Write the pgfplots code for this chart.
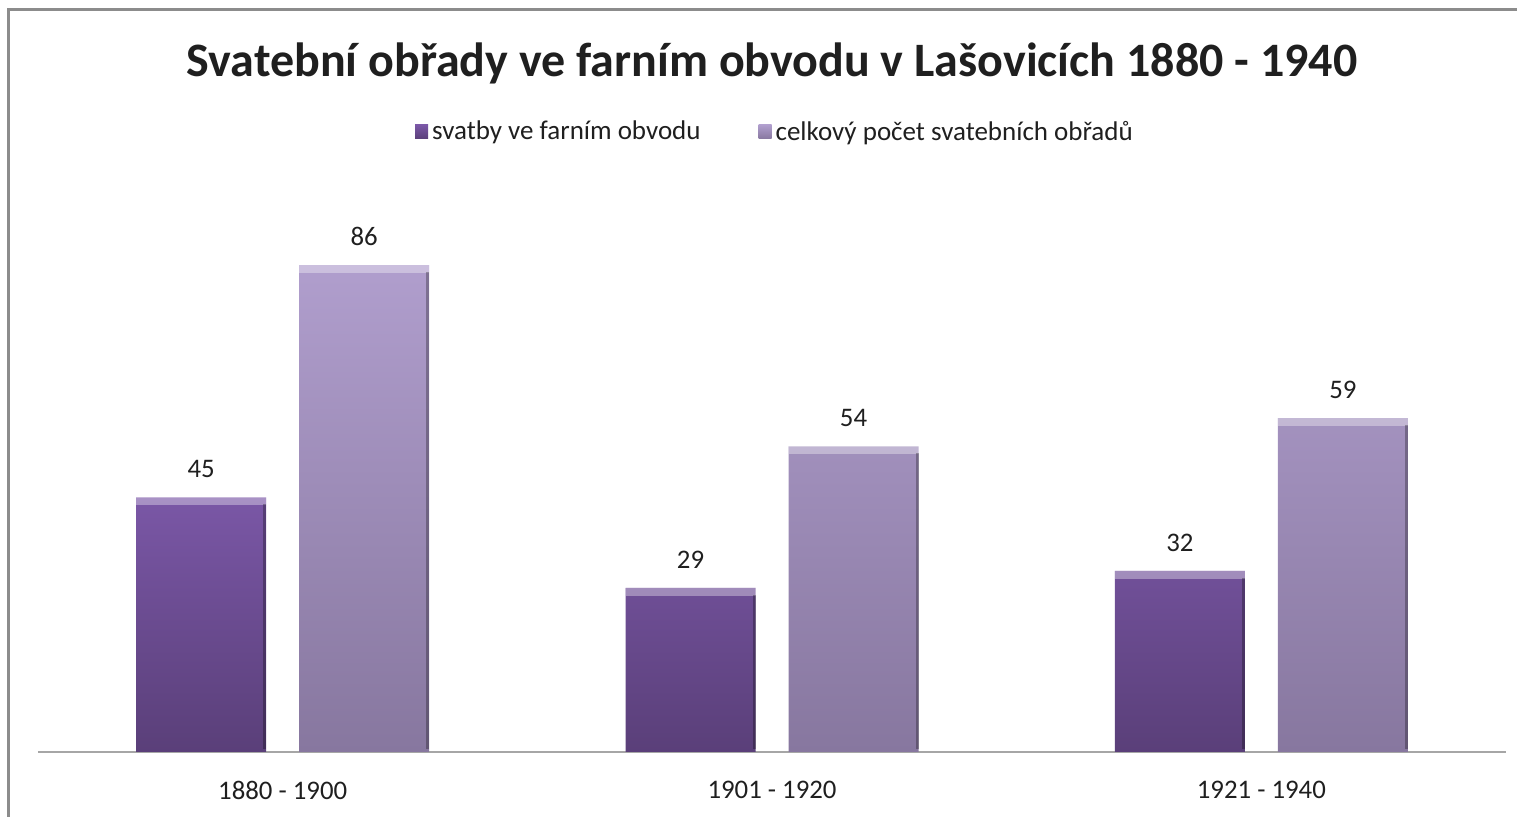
\documentclass[border=0pt]{standalone}
\usepackage{pgfplots}
\pgfplotsset{compat=1.18}
\usepackage{fontspec}
\setmainfont{Carlito}
\usetikzlibrary{shapes.geometric}
\definecolor{dtop}{HTML}{7A57A6}
\definecolor{dbot}{HTML}{5A3F79}
\definecolor{ltop}{HTML}{B09ECD}
\definecolor{lbot}{HTML}{87779F}
\definecolor{txt}{HTML}{1F1F1F}
\definecolor{frame}{HTML}{8C8C8C}
\pgfplotsset{
  bevelplot/.style={forget plot, draw=none, fill=none,
    nodes near coords={},
    nodes near coords style={anchor=north, inner sep=0pt, outer sep=0pt,
      shape=trapezium, trapezium angle=45, shape border rotate=180,
      trapezium stretches body, minimum width=65pt, minimum height=4pt,
      fill=white, fill opacity=0.35, draw=none}},
  edgeplot/.style={forget plot, draw=none, fill=none,
    visualization depends on={rawy \as \rawy},
    nodes near coords={},
    nodes near coords style={anchor=north east, inner sep=0pt, outer sep=0pt,
      xshift=32.5pt, yshift=-3.5pt, minimum width=1.5pt, minimum height={\rawy*2.83pt-5pt},
      fill=black, fill opacity=0.28, draw=none}},
  valplot/.style={nodes near coords,
    nodes near coords style={font=\fontsize{13.4}{15}\selectfont, text=txt, inner sep=0pt,
      anchor=south, yshift=9.5pt, /pgf/number format/assume math mode=true}},
}
\begin{document}
\begin{tikzpicture}[x=1pt,y=1pt]
\useasboundingbox (0,0) rectangle (758.5,408.5);
\begin{scope}
\clip (0,0) rectangle (758.5,408.5);
\draw[frame,line width=1.2pt] (4.25,-20) rectangle (800,403.75);
\end{scope}
\node[font=\fontsize{24}{28}\selectfont\bfseries, text=txt] at (386,377) {Svatební obřady ve farním obvodu v Lašovicích 1880 - 1940};
\begin{axis}[
  at={(19pt,32.5pt)}, anchor=south west,
  scale only axis, width=734pt, height=283pt,
  xmin=-0.5, xmax=2.5, ymin=0, ymax=100,
  axis y line=none,
  axis x line=bottom,
  x axis line style={draw=black!35, line width=1pt, -},
  xtick={0,1,2},
  xticklabels={1880 - 1900, 1901 - 1920, 1921 - 1940},
  xtick style={draw=none}, major tick length=0pt,
  xticklabel style={font=\fontsize{13.4}{15}\selectfont, text=txt, inner sep=0pt, anchor=north, yshift=-14.5pt},
  ybar, bar width=65pt,
  legend style={at={(0.5027,1.0954)}, anchor=center, draw=none, fill=none, legend columns=2,
    font=\fontsize{13.5}{15}\selectfont, text=txt,
    /tikz/every even column/.append style={column sep=27pt}},
  legend image code/.code={\path[#1] (0pt,-3.5pt) rectangle (6.5pt,3.5pt);},
]
\addplot[draw=none, top color=dtop, bottom color=dbot, bar shift=-40.75pt, valplot]
  coordinates {(0,45) (1,29) (2,32)};
\addlegendentry{svatby ve farním obvodu}
\addplot[draw=none, top color=ltop, bottom color=lbot, bar shift=40.75pt, valplot]
  coordinates {(0,86) (1,54) (2,59)};
\addlegendentry{celkový počet svatebních obřadů}
\addplot[bar shift=-40.75pt, bevelplot] coordinates {(0,45) (1,29) (2,32)};
\addplot[bar shift=40.75pt, bevelplot] coordinates {(0,86) (1,54) (2,59)};
\addplot[bar shift=-40.75pt, edgeplot] coordinates {(0,45) (1,29) (2,32)};
\addplot[bar shift=40.75pt, edgeplot] coordinates {(0,86) (1,54) (2,59)};
\end{axis}
\end{tikzpicture}
\end{document}
